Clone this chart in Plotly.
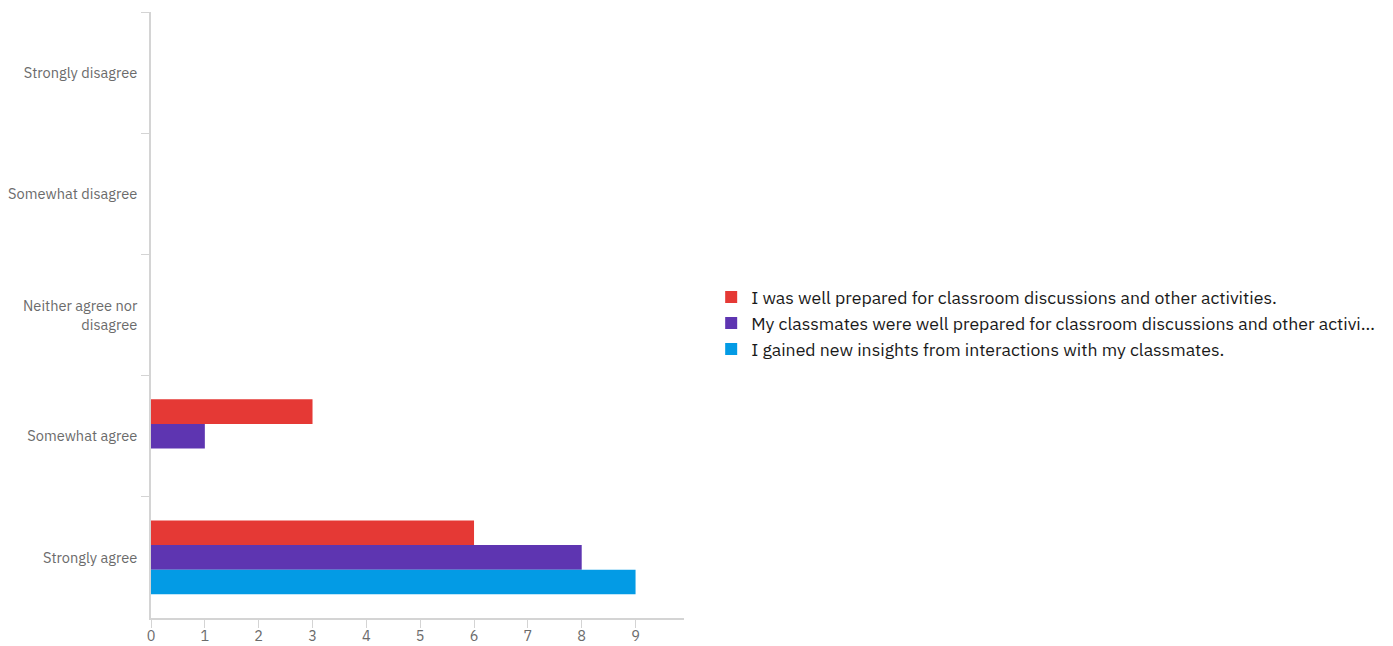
import plotly.graph_objects as go

categories = ["Strongly disagree", "Somewhat disagree", "Neither agree nor<br>disagree",
              "Somewhat agree", "Strongly agree"]
series_names = [
    "I was well prepared for classroom discussions and other activities.",
    "My classmates were well prepared for classroom discussions and other activi\u2026",
    "I gained new insights from interactions with my classmates.",
]
well_prepared = [0, 0, 0, 3, 6]
classmates_prepared = [0, 0, 0, 1, 8]
new_insights = [0, 0, 0, 0, 9]
colors = ["#E53935", "#5E35B1", "#039BE5"]
x_ticks = [0, 1, 2, 3, 4, 5, 6, 7, 8, 9]

fig = go.Figure()
for name, vals, col in zip(series_names, [well_prepared, classmates_prepared, new_insights], colors):
    fig.add_trace(go.Bar(y=categories, x=vals, name=name, orientation="h",
                         marker=dict(color=col, line=dict(width=0))))

font = "IBM Plex Sans, Roboto, Open Sans, sans-serif"
fig.update_layout(
    width=1393, height=646,
    margin=dict(l=143, r=717, t=4, b=36, autoexpand=False),
    barmode="group", bargap=0.39, bargroupgap=0,
    plot_bgcolor="white", paper_bgcolor="white",
    font=dict(family=font, color="#6b6b6b", size=14),
    showlegend=True,
    legend=dict(x=1.051, xanchor="left", y=0.486, yanchor="middle",
                font=dict(size=17.7, color="#1a1a1a"), traceorder="normal",
                tracegroupgap=0),
    xaxis=dict(range=[0, 9.9], tickvals=x_ticks, showgrid=False, zeroline=False,
               showline=True, linecolor="#d4d4d4", linewidth=1.5, automargin=False,
               ticks="outside", ticklen=8, tickcolor="#d4d4d4", ticklabelstandoff=-4,
               tickfont=dict(size=14.5, color="#6b6b6b")),
    yaxis=dict(autorange="reversed", showgrid=False, zeroline=False, automargin=False,
               showline=True, linecolor="#d4d4d4", linewidth=1.5,
               ticks="outside", ticklen=8, tickcolor="#d4d4d4", tickson="boundaries",
               tickfont=dict(size=14.6, color="#6b6b6b"), ticklabelstandoff=9),
)
fig.write_html("out.html")
